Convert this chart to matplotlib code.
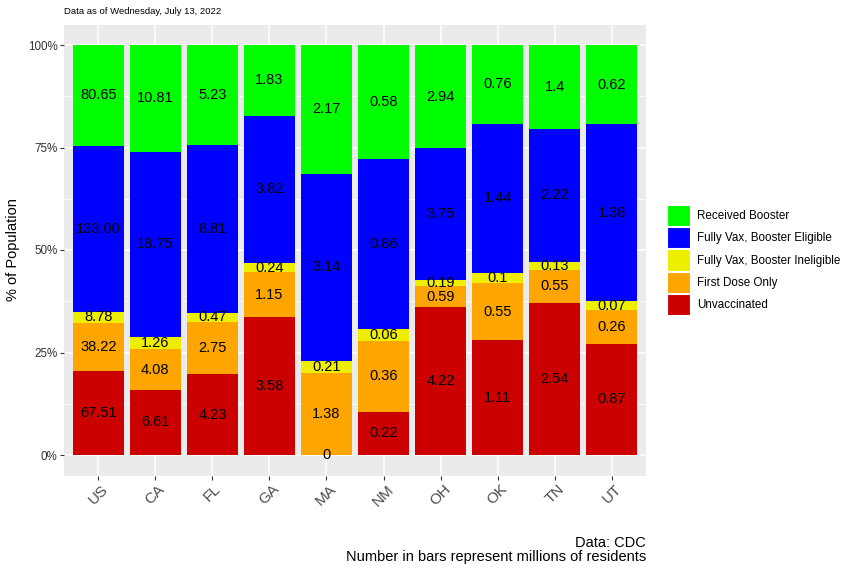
import numpy as np
import matplotlib
matplotlib.use("Agg")
from matplotlib import pyplot as plt
from matplotlib.patches import Patch
from matplotlib.ticker import FixedLocator

plt.rcParams['font.family'] = ['Liberation Sans', 'DejaVu Sans']

places = ['US', 'CA', 'FL', 'GA', 'MA', 'NM', 'OH', 'OK', 'TN', 'UT']
# millions of residents, per group
unvax = [67.51, 6.61, 4.23, 3.58, 0, 0.22, 4.22, 1.11, 2.54, 0.87]
first_dose = [38.22, 4.08, 2.75, 1.15, 1.38, 0.36, 0.59, 0.55, 0.55, 0.26]
vax_inelig = [8.78, 1.26, 0.47, 0.24, 0.21, 0.06, 0.19, 0.1, 0.13, 0.07]
vax_elig = [133.00, 18.75, 8.81, 3.82, 3.14, 0.86, 3.75, 1.44, 2.22, 1.38]
booster = [80.65, 10.81, 5.23, 1.83, 2.17, 0.58, 2.94, 0.76, 1.4, 0.62]

groups = ['Unvaccinated', 'First Dose Only', 'Fully Vax, Booster Ineligible',
          'Fully Vax, Booster Eligible', 'Received Booster']
colors = ['#CC0000', '#FFA500', '#EEEE00', '#0000FF', '#00FF00']
y_ticks = [0, 0.25, 0.5, 0.75, 1.0]
y_tick_labels = ['0%', '25%', '50%', '75%', '100%']

W, H = 862, 572
fig = plt.figure(figsize=(W / 100, H / 100), dpi=100)
ax = fig.add_axes([64 / W, 1 - 475.5 / H, 582 / W, 451 / H])
ax.set_facecolor('#EBEBEB')
for s in ax.spines.values():
    s.set_visible(False)

data = np.array([unvax, first_dose, vax_inelig, vax_elig, booster])
frac = data / data.sum(axis=0)
x = np.arange(len(places))

bottom = np.zeros(len(places))
for i in range(len(groups)):
    ax.bar(x, frac[i], 0.9, bottom=bottom, color=colors[i], zorder=3)
    for j in range(len(places)):
        v = data[i, j]
        lab = '{:.2f}'.format(v) if v >= 100 else '{:g}'.format(v)
        ax.text(x[j], bottom[j] + frac[i, j] / 2, lab, ha='center', va='center',
                fontsize=10.5, color='black', zorder=4)
    bottom = bottom + frac[i]

ax.set_xlim(-0.6, len(places) - 0.4)
ax.set_ylim(-0.05, 1.05)
ax.set_xticks(x)
ax.set_xticklabels(places, rotation=45, ha='center', va='top', fontsize=11, color='#4D4D4D')
ax.set_yticks(y_ticks)
ax.set_yticklabels(y_tick_labels, fontsize=8.4, color='#333333')
ax.yaxis.set_minor_locator(FixedLocator([0.125, 0.375, 0.625, 0.875]))
ax.tick_params(axis='both', which='major', length=2.7, width=0.8, color='#333333', pad=2)
ax.tick_params(axis='y', which='minor', length=0)
ax.grid(True, which='major', color='white', linewidth=1.1, zorder=0)
ax.grid(True, which='minor', axis='y', color='white', linewidth=0.55, zorder=0)
ax.set_axisbelow(True)

fig.text(13 / W, 1 - 250 / H, '% of Population', rotation=90, ha='center', va='center', fontsize=10.5)
fig.text(64 / W, 1 - 12 / H, 'Data as of Wednesday, July 13, 2022', ha='left', va='center', fontsize=6.8)
fig.text(646 / W, 8 / H, 'Data: CDC\nNumber in bars represent millions of residents',
         ha='right', va='bottom', fontsize=10.5, linespacing=1.0)

handles = [Patch(facecolor=colors[i], edgecolor='white', linewidth=0.8) for i in range(len(groups))][::-1]
ax.legend(handles, groups[::-1], loc='center left', bbox_to_anchor=(667 / W, 1 - 260 / H),
          bbox_transform=fig.transFigure, frameon=False, fontsize=8.4,
          handlelength=2.0, handleheight=2.45, labelspacing=0.08, handletextpad=0.6,
          borderpad=0, borderaxespad=0)

fig.savefig('out.png', dpi=100)
